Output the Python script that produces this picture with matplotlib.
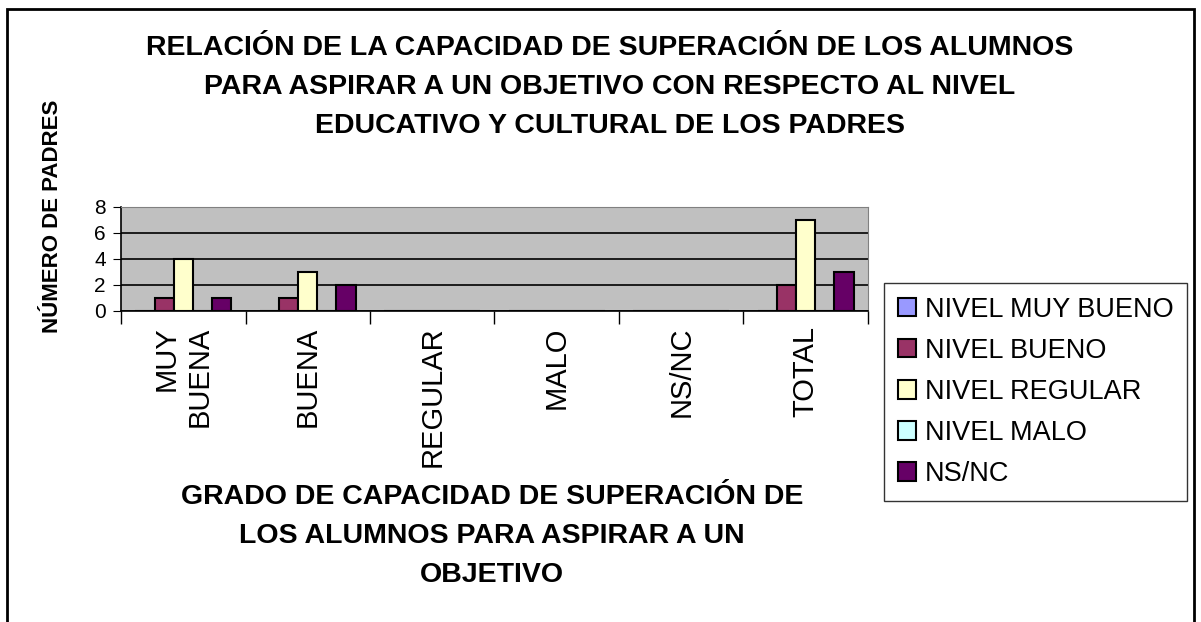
import numpy as np
import matplotlib
matplotlib.use("Agg")
from matplotlib import pyplot as plt
from matplotlib.patches import Rectangle

plt.rcParams['font.family'] = ['Liberation Sans', 'DejaVu Sans']

categories = ["MUY\nBUENA", "BUENA", "REGULAR", "MALO", "NS/NC", "TOTAL"]
series_names = ["NIVEL MUY BUENO", "NIVEL BUENO", "NIVEL REGULAR", "NIVEL MALO", "NS/NC"]
muy_bueno = [0, 0, 0, 0, 0, 0]
bueno = [1, 1, 0, 0, 0, 2]
regular = [4, 3, 0, 0, 0, 7]
malo = [0, 0, 0, 0, 0, 0]
ns_nc = [1, 2, 0, 0, 0, 3]
colors = ["#9999FF", "#993366", "#FFFFCC", "#CCFFFF", "#660066"]

W, H = 1201, 622
fig = plt.figure(figsize=(W / 100, H / 100), dpi=100)
ax = fig.add_axes([121 / W, 1 - 311 / H, 747 / W, 104 / H])
ax.set_facecolor("#C0C0C0")

x = np.arange(len(categories))
bw = 1 / 6.5
for i, (vals, name, col) in enumerate(zip([muy_bueno, bueno, regular, malo, ns_nc], series_names, colors)):
    ax.bar(x + (i - 2) * bw, vals, bw, color=col, edgecolor="black", linewidth=1.5, label=name, zorder=3)

ax.set_xlim(-0.5, len(categories) - 0.5)
ax.set_ylim(0, 8)
ax.set_yticks([0, 2, 4, 6, 8])
ax.tick_params(axis="y", direction="out", length=6, labelsize=15, pad=5)
ax.yaxis.grid(True, color="black", linewidth=1.2, zorder=1)

ax.set_xticks(np.arange(len(categories) + 1) - 0.5)
ax.set_xticklabels([])
ax.tick_params(axis="x", which="major", direction="out", length=9, width=1)
ax.set_xticks(x, minor=True)
ax.set_xticklabels(categories, minor=True, rotation=90, fontsize=21,
                   va="top", ha="center", multialignment="right", linespacing=1.2)
ax.tick_params(axis="x", which="minor", length=0, pad=11)

for s in ["top", "right"]:
    ax.spines[s].set_color("#808080")
for s in ["left", "bottom"]:
    ax.spines[s].set_color("black")
    ax.spines[s].set_linewidth(1.2)

fig.text(610 / W, 1 - 87 / H,
         "RELACIÓN DE LA CAPACIDAD DE SUPERACIÓN DE LOS ALUMNOS\n"
         "PARA ASPIRAR A UN OBJETIVO CON RESPECTO AL NIVEL\n"
         "EDUCATIVO Y CULTURAL DE LOS PADRES",
         ha="center", va="center", fontsize=20.5, fontweight="bold", linespacing=1.66)

fig.text(52 / W, 1 - 216 / H, "NÚMERO DE PADRES", rotation=90, ha="center", va="center",
         fontsize=16, fontweight="bold")

fig.text(492 / W, 1 - 536 / H,
         "GRADO DE CAPACIDAD DE SUPERACIÓN DE\nLOS ALUMNOS PARA ASPIRAR A UN\nOBJETIVO",
         ha="center", va="center", fontsize=20.5, fontweight="bold", linespacing=1.64)

leg = fig.legend(loc="upper left", bbox_to_anchor=(884 / W, 1 - 283 / H), fontsize=19.5,
                 frameon=True, fancybox=False, edgecolor="black", handlelength=0.67,
                 handleheight=0.67, handletextpad=0.35, labelspacing=0.56, borderpad=0.5,
                 borderaxespad=0)
leg.get_frame().set_linewidth(1.0)

fig.patches.append(Rectangle((7 / W, -0.05), (1194 - 7) / W, 1 - 9 / H + 0.05,
                             transform=fig.transFigure, fill=False, edgecolor="black",
                             linewidth=2))

fig.savefig("out.png", dpi=100)
